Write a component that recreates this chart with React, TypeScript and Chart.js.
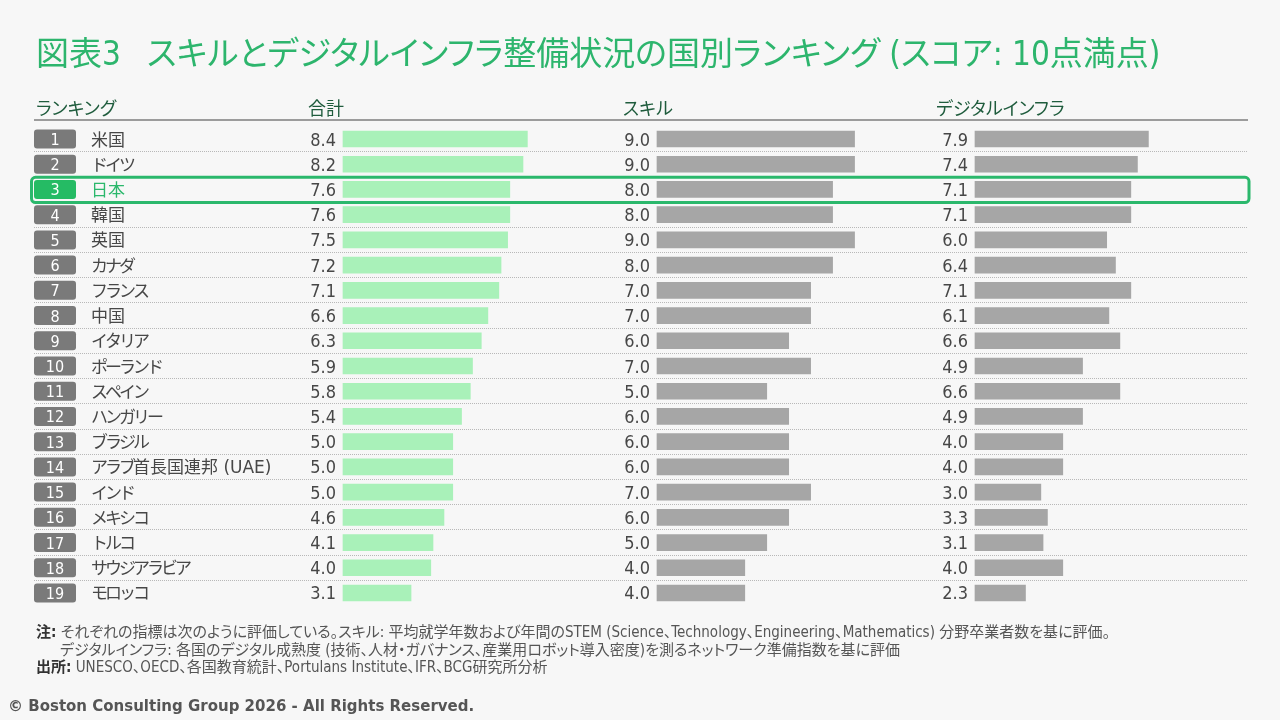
import { useEffect, useRef } from "react";
import { Chart, registerables } from "chart.js";

Chart.register(...registerables);

// ---- data ----
const ranks = [1, 2, 3, 4, 5, 6, 7, 8, 9, 10, 11, 12, 13, 14, 15, 16, 17, 18, 19];
const countries = [
  "米国", "ドイツ", "日本", "韓国", "英国", "カナダ", "フランス", "中国", "イタリア", "ポーランド",
  "スペイン", "ハンガリー", "ブラジル", "アラブ首長国連邦 (UAE)", "インド", "メキシコ", "トルコ", "サウジアラビア", "モロッコ",
];
const totalScores = [8.4, 8.2, 7.6, 7.6, 7.5, 7.2, 7.1, 6.6, 6.3, 5.9, 5.8, 5.4, 5.0, 5.0, 5.0, 4.6, 4.1, 4.0, 3.1];
const skillScores = [9.0, 9.0, 8.0, 8.0, 9.0, 8.0, 7.0, 7.0, 6.0, 7.0, 5.0, 6.0, 6.0, 6.0, 7.0, 6.0, 5.0, 4.0, 4.0];
const infraScores = [7.9, 7.4, 7.1, 7.1, 6.0, 6.4, 7.1, 6.1, 6.6, 4.9, 6.6, 4.9, 4.0, 4.0, 3.0, 3.3, 3.1, 4.0, 2.3];
const columnTitles = ["合計", "スキル", "デジタルインフラ"];
const rankTitle = "ランキング";
const highlightCountry = "日本";

// ---- layout & style ----
const W = 1280;
const H = 720;
const PAD_TOP = 126.4;
const PAD_BOTTOM = 114.4;
const UNIT = 21.95; // pixels per score point
const columnZero = [343, 657, 975];
const headerLeft = [308, 623, 936];
const axisIds = ["xTotal", "xSkill", "xInfra"];
const columnValues = [totalScores, skillScores, infraScores];

const GREEN = "#2bb86c";
const BADGE_GREEN = "#25bb64";
const BADGE_GREY = "#7a7a7a";
const TEXT = "#474747";
const LATIN = '"DejaVu Sans Condensed", "Noto Sans CJK JP", sans-serif';
const NAME_FONT = '"DejaVu Sans", "Noto Sans CJK JP", sans-serif';
const JP = '"Noto Sans CJK JP", sans-serif';

const rowBoundary = (chart: any, i: number) => {
  const y = chart.scales.y;
  return (y.getPixelForValue(i) + y.getPixelForValue(i + 1)) / 2;
};

// kana are set tighter than kanji and Latin letters
const isKana = (ch: string) => /[\u3040-\u30ff]/.test(ch);

function drawTightText(ctx: CanvasRenderingContext2D, text: string, x: number, y: number) {
  let cx = x;
  for (const ch of text) {
    ctx.fillText(ch, cx, y);
    const adv = ctx.measureText(ch).width;
    cx += adv + (isKana(ch) ? -3 : 0);
  }
}

const tablePlugin = {
  id: "rankTable",
  beforeDatasetsDraw(chart: any) {
    const ctx = chart.ctx as CanvasRenderingContext2D;
    ctx.save();
    // header rule
    ctx.fillStyle = "#9c9c9c";
    ctx.fillRect(34, 119, 1214, 2);
    // dotted row separators
    ctx.strokeStyle = "#b8b8b8";
    ctx.lineWidth = 1;
    ctx.setLineDash([1, 1]);
    for (let i = 0; i < countries.length - 1; i++) {
      const yy = Math.floor(rowBoundary(chart, i)) + 0.5;
      ctx.beginPath();
      ctx.moveTo(34, yy);
      ctx.lineTo(1247, yy);
      ctx.stroke();
    }
    ctx.restore();
  },
  afterDatasetsDraw(chart: any) {
    const ctx = chart.ctx as CanvasRenderingContext2D;
    const y = chart.scales.y;
    ctx.save();

    // highlighted row frame
    const hi = countries.indexOf(highlightCountry);
    if (hi >= 0) {
      const top = rowBoundary(chart, hi - 1);
      const bottom = rowBoundary(chart, hi);
      ctx.strokeStyle = GREEN;
      ctx.lineWidth = 3;
      ctx.beginPath();
      ctx.roundRect(31.5, top + 0.5, 1217.5, bottom - top, 4);
      ctx.stroke();
    }

    for (let i = 0; i < countries.length; i++) {
      const yc = y.getPixelForValue(i);
      const isHi = i === hi;

      // rank badge
      ctx.fillStyle = isHi ? BADGE_GREEN : BADGE_GREY;
      ctx.beginPath();
      ctx.roundRect(34, yc - 9.5, 42, 19, 3);
      ctx.fill();
      ctx.fillStyle = "#ffffff";
      ctx.font = `16px ${LATIN}`;
      ctx.textAlign = "center";
      ctx.textBaseline = "alphabetic";
      ctx.fillText(String(ranks[i]), 55, yc + 6);

      // country name
      ctx.font = `17px ${NAME_FONT}`;
      ctx.textAlign = "left";
      ctx.fillStyle = isHi ? GREEN : TEXT;
      drawTightText(ctx, countries[i], 91, yc + 6.5);

      // value labels next to each bar
      ctx.font = `18px ${LATIN}`;
      ctx.textAlign = "right";
      ctx.fillStyle = TEXT;
      for (let c = 0; c < axisIds.length; c++) {
        const x0 = chart.scales[axisIds[c]].getPixelForValue(0);
        ctx.fillText(columnValues[c][i].toFixed(1), x0 - 7, yc + 6.5);
      }
    }
    ctx.restore();
  },
};

function xAxis(zero: number) {
  return {
    type: "linear" as const,
    display: false,
    bounds: "data" as const,
    min: -zero / UNIT,
    max: (W - zero) / UNIT,
  };
}

export default function App() {
  const canvasRef = useRef<HTMLCanvasElement | null>(null);

  useEffect(() => {
    const canvas = canvasRef.current;
    if (!canvas) return;
    const barStyle = { barThickness: 16, grouped: false, borderWidth: 0 };
    const chart = new Chart(canvas, {
      type: "bar",
      data: {
        labels: countries,
        datasets: [
          { label: columnTitles[0], data: totalScores, xAxisID: "xTotal", backgroundColor: "#a9f1b9", ...barStyle },
          { label: columnTitles[1], data: skillScores, xAxisID: "xSkill", backgroundColor: "#a6a6a6", ...barStyle },
          { label: columnTitles[2], data: infraScores, xAxisID: "xInfra", backgroundColor: "#a6a6a6", ...barStyle },
        ],
      },
      options: {
        indexAxis: "y",
        responsive: false,
        animation: false,
        devicePixelRatio: 1,
        layout: { padding: { top: PAD_TOP, bottom: PAD_BOTTOM, left: 0, right: 0 } },
        scales: {
          y: { type: "category", display: false, offset: true },
          xTotal: xAxis(columnZero[0]),
          xSkill: xAxis(columnZero[1]),
          xInfra: xAxis(columnZero[2]),
        },
        plugins: {
          legend: { display: false },
          tooltip: { enabled: false },
          title: { display: false },
        },
      } as any,
      plugins: [tablePlugin],
    });
    return () => chart.destroy();
  }, []);

  const jpText: any = { fontFeatureSettings: '"palt"', whiteSpace: "nowrap", position: "absolute" };

  return (
    <div
      style={{
        position: "absolute",
        left: 0,
        top: 0,
        width: W,
        height: H,
        background: "#f7f7f7",
        overflow: "hidden",
      }}
    >
      <canvas ref={canvasRef} width={W} height={H} style={{ position: "absolute", left: 0, top: 0 }} />

      <div style={{ ...jpText, left: 36, top: 37, fontSize: 33, lineHeight: "34px", color: "#2db56d", fontFamily: LATIN }}>
        <span style={{ marginRight: 26 }}>図表3</span>スキルとデジタルインフラ整備状況の国別ランキング (スコア: 10点満点)
      </div>

      <div style={{ ...jpText, left: 36, top: 97, fontSize: 18, lineHeight: "20px", color: "#1f5c3d", fontFamily: JP }}>
        {rankTitle}
      </div>
      {columnTitles.map((t, i) => (
        <div
          key={t}
          style={{ ...jpText, left: headerLeft[i], top: 97, fontSize: 18, lineHeight: "20px", color: "#1f5c3d", fontFamily: JP }}
        >
          {t}
        </div>
      ))}

      <div style={{ ...jpText, left: 36, top: 624, fontSize: 15, lineHeight: "17.5px", color: "#555555", fontFamily: LATIN }}>
        <div>
          <b style={{ color: "#333333" }}>注:</b> それぞれの指標は次のように評価している。スキル: 平均就学年数および年間のSTEM (Science、Technology、Engineering、Mathematics) 分野卒業者数を基に評価。
        </div>
        <div style={{ paddingLeft: 24 }}>
          デジタルインフラ: 各国のデジタル成熟度 (技術、人材・ガバナンス、産業用ロボット導入密度)を測るネットワーク準備指数を基に評価
        </div>
        <div>
          <b style={{ color: "#333333" }}>出所:</b> UNESCO、OECD、各国教育統計、Portulans Institute、IFR、BCG研究所分析
        </div>
      </div>

      <div
        style={{
          ...jpText,
          left: 8,
          top: 697,
          fontSize: 15,
          lineHeight: "18px",
          fontWeight: "bold",
          color: "#555555",
          fontFamily: '"DejaVu Sans", sans-serif',
        }}
      >
        © Boston Consulting Group 2026 - All Rights Reserved.
      </div>
    </div>
  );
}
